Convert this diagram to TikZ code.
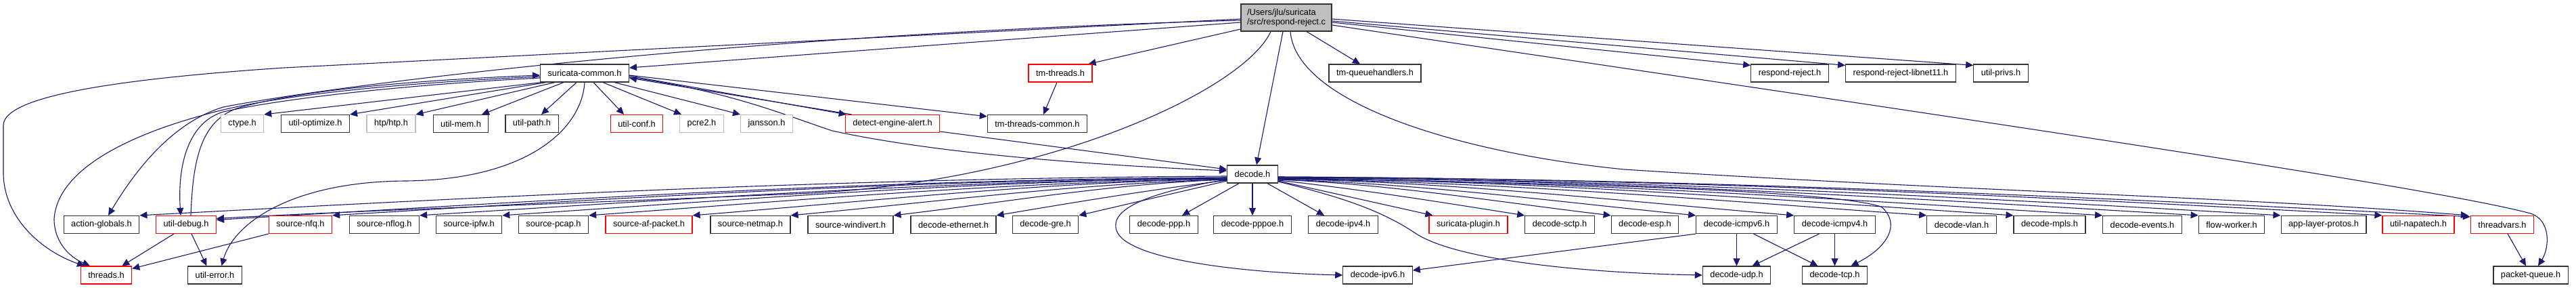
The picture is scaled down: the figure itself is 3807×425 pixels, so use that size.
\documentclass[tikz,border=0pt]{standalone}
\usepackage{fontspec}
\setmainfont{Liberation Sans}
\usepackage{xcolor}
\usepackage{tikz}
\usetikzlibrary{arrows.meta, positioning, calc, backgrounds}
\definecolor{edgeblue}{HTML}{191970}
\definecolor{sysgray}{HTML}{BFBFBF}

\begin{document}
\begin{tikzpicture}[
    x=1pt, y=1pt,
    font=\fontsize{12.8}{14.5}\selectfont,
    hdr/.style={draw=black!80, line width=1.2pt, fill=white, minimum height=26pt,
                inner xsep=11pt, inner ysep=0pt},
    hdrtrunc/.style={hdr, draw=red},
    hdrsys/.style={hdr, draw=sysgray},
    srcmain/.style={hdr, fill=sysgray, minimum height=40pt, inner xsep=9pt, align=left},
    dep/.style={draw=edgeblue, line width=1.1pt, -{Triangle[length=11pt,width=10pt]}}
  ]
    \useasboundingbox (0,0) rectangle (3807,-425);

    \node[srcmain] (main) at (1901,-26) {/Users/jlu/suricata\\/src/respond-reject.c};

    \node[hdr] (scommon) at (864,-108) {suricata-common.h};
    \node[hdrtrunc] (tmthr) at (1567,-108) {tm-threads.h};
    \node[hdr] (tmqh) at (2032,-108) {tm-queuehandlers.h};
    \node[hdr] (rrej) at (2645,-108) {respond-reject.h};
    \node[hdr] (rrejln) at (2809,-108) {respond-reject-libnet11.h};
    \node[hdr] (uprivs) at (2957,-108) {util-privs.h};

    \node[hdrsys] (ctype) at (358,-182.5) {ctype.h};
    \node[hdr] (uopt) at (466,-182.5) {util-optimize.h};
    \node[hdrsys] (htp) at (578,-182.5) {htp/htp.h};
    \node[hdr] (umem) at (681,-182.5) {util-mem.h};
    \node[hdr] (upath) at (786,-182.5) {util-path.h};
    \node[hdrtrunc] (uconf) at (941,-182.5) {util-conf.h};
    \node[hdrsys] (pcre) at (1037,-182.5) {pcre2.h};
    \node[hdrsys] (jansson) at (1133,-182.5) {jansson.h};
    \node[hdrtrunc] (detalert) at (1319,-182.5) {detect-engine-alert.h};
    \node[hdr] (tmtc) at (1533,-182.5) {tm-threads-common.h};

    \node[hdr] (decode) at (1851,-257) {decode.h};

    \node[hdr] (actglob) at (150,-331.5) {action-globals.h};
    \node[hdrtrunc] (udebug) at (275,-331.5) {util-debug.h};
    \node[hdrtrunc] (snfq) at (444,-331.5) {source-nfq.h};
    \node[hdr] (snflog) at (568,-331.5) {source-nflog.h};
    \node[hdr] (sipfw) at (693,-331.5) {source-ipfw.h};
    \node[hdr] (spcap) at (818,-331.5) {source-pcap.h};
    \node[hdrtrunc] (safp) at (959,-331.5) {source-af-packet.h};
    \node[hdr] (snetmap) at (1109,-331.5) {source-netmap.h};
    \node[hdr] (swindiv) at (1257,-331.5) {source-windivert.h};
    \node[hdr] (deth) at (1409,-331.5) {decode-ethernet.h};
    \node[hdr] (dgre) at (1545,-331.5) {decode-gre.h};
    \node[hdr] (dppp) at (1720,-331.5) {decode-ppp.h};
    \node[hdr] (dpppoe) at (1851,-331.5) {decode-pppoe.h};
    \node[hdr] (dipv4) at (1985,-331.5) {decode-ipv4.h};
    \node[hdrtrunc] (splugin) at (2170,-331.5) {suricata-plugin.h};
    \node[hdr] (dsctp) at (2305,-331.5) {decode-sctp.h};
    \node[hdr] (desp) at (2431,-331.5) {decode-esp.h};
    \node[hdr] (dicmp6) at (2566.5,-331.5) {decode-icmpv6.h};
    \node[hdr] (dicmp4) at (2711.5,-331.5) {decode-icmpv4.h};
    \node[hdr] (dvlan) at (2899,-331.5) {decode-vlan.h};
    \node[hdr] (dmpls) at (3029,-331.5) {decode-mpls.h};
    \node[hdr] (devents) at (3166,-331.5) {decode-events.h};
    \node[hdr] (fworker) at (3298,-331.5) {flow-worker.h};
    \node[hdr] (alproto) at (3434,-331.5) {app-layer-protos.h};
    \node[hdrtrunc] (unapa) at (3574,-331.5) {util-napatech.h};
    \node[hdrtrunc] (thrvars) at (3698,-331.5) {threadvars.h};

    \node[hdrtrunc] (threads) at (157,-406) {threads.h};
    \node[hdr] (uerror) at (317.5,-406) {util-error.h};
    \node[hdr] (dipv6) at (2036,-406) {decode-ipv6.h};
    \node[hdr] (dudp) at (2566.5,-406) {decode-udp.h};
    \node[hdr] (dtcp) at (2711.5,-406) {decode-tcp.h};
    \node[hdr] (pqueue) at (3740,-406) {packet-queue.h};

  \begin{scope}[on background layer]
    \draw[dep] ([yshift=-7]main.west) -- ([yshift=8]scommon.east);
    \draw[dep] ([yshift=-2]main.west) -- (420,-100) .. controls (150,-118) and (5,-145) .. (5,-185)
      -- (5,-255) .. controls (5,-320) and (60,-370) .. ([xshift=-32]threads.north);
    \draw[dep] ([yshift=-4]main.west) .. controls (1100,-50) and (500,-125) .. (330,-158)
      .. controls (250,-182) and (195,-260) .. ([xshift=10]actglob.north);
    \draw[dep] ([xshift=-23]main.south) .. controls (1840,-130) and (1560,-265) .. (1200,-285)
      .. controls (900,-298) and (500,-312) .. ([yshift=9]udebug.east);
    \draw[dep] ([yshift=-17]main.west) -- ([xshift=-6]tmthr.north east);
    \draw[dep] ([xshift=-5]main.south) -- ([xshift=6]decode.north);
    \draw[dep] ([xshift=30]main.south) -- ([xshift=-22]tmqh.north);
    \draw[dep] ([xshift=6]main.south) .. controls (1915,-150) and (2150,-225) .. (2400,-250)
      .. controls (2900,-282) and (3300,-290) .. ([xshift=-3]thrvars.north west);
    \draw[dep] ([yshift=-11]main.east) .. controls (3000,-189) and (3600,-278) .. (3740,-315)
      .. controls (3770,-325) and (3768,-365) .. ([xshift=11]pqueue.north);
    \draw[dep] ([yshift=-7]main.east) -- ([yshift=-2]rrej.north west);
    \draw[dep] ([yshift=-5]main.east) -- ([yshift=-2]rrejln.north west);
    \draw[dep] ([yshift=-2]main.east) -- ([yshift=-2]uprivs.north west);

    \draw[dep] ([yshift=-5]scommon.west) .. controls (600,-122) and (400,-140) .. (300,-170)
      .. controls (190,-200) and (85,-250) .. (80,-323)
      .. controls (80,-355) and (100,-378) .. ([xshift=-24]threads.north);
    \draw[dep] ([yshift=-7]scommon.west) .. controls (600,-125) and (420,-145) .. (330,-165)
      .. controls (280,-180) and (262,-240) .. ([xshift=-8]udebug.north);
    \draw[dep] ([xshift=7]udebug.north) .. controls (285,-240) and (295,-180) .. (350,-160)
      .. controls (450,-130) and (650,-117) .. ([yshift=-3]scommon.west);
    \draw[dep] ([xshift=2]scommon.south west) -- (ctype.north east);
    \draw[dep] ([xshift=9]scommon.south west) -- (uopt.north east);
    \draw[dep] ([xshift=22]scommon.south west) -- (htp.north east);
    \draw[dep] ([xshift=-31]scommon.south) -- ([xshift=31]umem.north);
    \draw[dep] ([xshift=-12]scommon.south) -- ([xshift=14]upath.north);
    \draw[dep] ([xshift=13]scommon.south) -- ([xshift=-19]uconf.north);
    \draw[dep] ([xshift=27]scommon.south) -- ([xshift=3]pcre.north west);
    \draw[dep] ([xshift=44]scommon.south) -- (jansson.north west);
    \draw[dep] ([yshift=-4]scommon.east) -- ([xshift=2]detalert.north west);
    \draw[dep] ([xshift=10]detalert.north west) -- ([yshift=-7]scommon.east);
    \draw[dep] ([yshift=-3]scommon.east) -- ([yshift=-3]tmtc.north west);
    \draw[dep] ([yshift=-6]scommon.east) .. controls (1080,-135) and (1160,-170) .. (1230,-193)
      .. controls (1400,-230) and (1650,-245) .. ([yshift=5]decode.west);
    \draw[dep] (scommon.south) .. controls (860,-190) and (780,-265) .. (600,-267)
      .. controls (430,-268) and (345,-330) .. ([xshift=10]uerror.north);
    \draw[dep] ([yshift=2]detalert.south east) -- ([yshift=7]decode.west);
    \draw[dep] ([xshift=-5]tmthr.south) -- ([xshift=9]tmtc.north);

    \draw[dep] ([xshift=-18]udebug.south) -- ([xshift=-15]threads.north east);
    \draw[dep] ([xshift=8]udebug.south) -- ([xshift=-12]uerror.north);
    \draw[dep] (snfq.south west) -- ([yshift=-4]threads.north east);

    \draw[dep] ([yshift=-3]decode.west) .. controls +(-560,-3) and +(560,30) .. (actglob.north east);
    \draw[dep] ([yshift=-5]decode.west) .. controls +(-520,-3) and +(520,31) .. ([yshift=7]udebug.east);
    \draw[dep] ([yshift=-5]decode.west) .. controls +(-460,-4) and +(460,28) .. (snfq.north east);
    \draw[dep] ([yshift=-6]decode.west) .. controls +(-420,-4) and +(420,26) .. (snflog.north east);
    \draw[dep] ([yshift=-6]decode.west) .. controls +(-375,-4) and +(375,25) .. (sipfw.north east);
    \draw[dep] ([yshift=-7]decode.west) .. controls +(-330,-5) and +(330,24) .. (spcap.north east);
    \draw[dep] ([yshift=-7]decode.west) .. controls +(-275,-5) and +(275,22) .. (safp.north east);
    \draw[dep] ([yshift=-8]decode.west) .. controls +(-225,-6) and +(225,21) .. (snetmap.north east);
    \draw[dep] ([yshift=-8]decode.west) .. controls +(-170,-6) and +(170,20) .. (swindiv.north east);
    \draw[dep] ([yshift=-9]decode.west) .. controls +(-120,-15) and +(120,20) .. (deth.north east);
    \draw[dep] ([yshift=-10]decode.west) -- (dgre.north east);
    \draw[dep] ([xshift=-20]decode.south) -- ([xshift=27]dppp.north);
    \draw[dep] (decode.south) -- (dpppoe.north);
    \draw[dep] ([xshift=22]decode.south) -- ([xshift=-28]dipv4.north);
    \draw[dep] ([yshift=-10]decode.east) -- ([xshift=6]splugin.north west);
    \draw[dep] ([yshift=-9]decode.east) .. controls +(127,-14) and +(-127,20) .. (dsctp.north west);
    \draw[dep] ([yshift=-8]decode.east) .. controls +(170,-7) and +(-170,20) .. (desp.north west);
    \draw[dep] ([yshift=-8]decode.east) .. controls +(215,-6) and +(-215,21) .. (dicmp6.north west);
    \draw[dep] ([yshift=-7]decode.east) .. controls +(265,-5) and +(-265,22) .. (dicmp4.north west);
    \draw[dep] ([yshift=-7]decode.east) .. controls +(335,-5) and +(-335,24) .. (dvlan.north west);
    \draw[dep] ([yshift=-6]decode.east) .. controls +(380,-4) and +(-380,25) .. (dmpls.north west);
    \draw[dep] ([yshift=-6]decode.east) .. controls +(425,-4) and +(-425,26) .. (devents.north west);
    \draw[dep] ([yshift=-5]decode.east) .. controls +(475,-3) and +(-475,28) .. (fworker.north west);
    \draw[dep] ([yshift=-5]decode.east) .. controls +(520,-3) and +(-520,30) .. (alproto.north west);
    \draw[dep] ([yshift=-4]decode.east) .. controls +(570,-3) and +(-570,31) .. (unapa.north west);
    \draw[dep] ([yshift=-4]decode.east) .. controls +(615,-3) and +(-615,32) .. ([yshift=-2]thrvars.north west);
    \draw[dep] ([yshift=-8]decode.west) .. controls (1690,-285) and (1640,-310) .. (1650,-340)
      .. controls (1665,-385) and (1850,-403) .. (dipv6.west);
    \draw[dep] ([yshift=-11]decode.east) .. controls (1980,-290) and (2040,-310) .. (2090,-343)
      .. controls (2150,-385) and (2350,-403) .. (dudp.west);
    \draw[dep] ([yshift=-6]decode.east) .. controls (2300,-270) and (2700,-280) .. (2780,-305)
      .. controls (2810,-330) and (2790,-365) .. ([xshift=24]dtcp.north);

    \draw[dep] (dicmp6.south west) -- ([yshift=7]dipv6.east);
    \draw[dep] (dicmp6.south) -- (dudp.north);
    \draw[dep] ([xshift=25]dicmp6.south) -- ([xshift=-25]dtcp.north);
    \draw[dep] ([xshift=-23]dicmp4.south) -- ([xshift=23]dudp.north);
    \draw[dep] (dicmp4.south) -- (dtcp.north);
    \draw[dep] ([xshift=8]thrvars.south) -- ([xshift=-7]pqueue.north);
  \end{scope}
\end{tikzpicture}
\end{document}
